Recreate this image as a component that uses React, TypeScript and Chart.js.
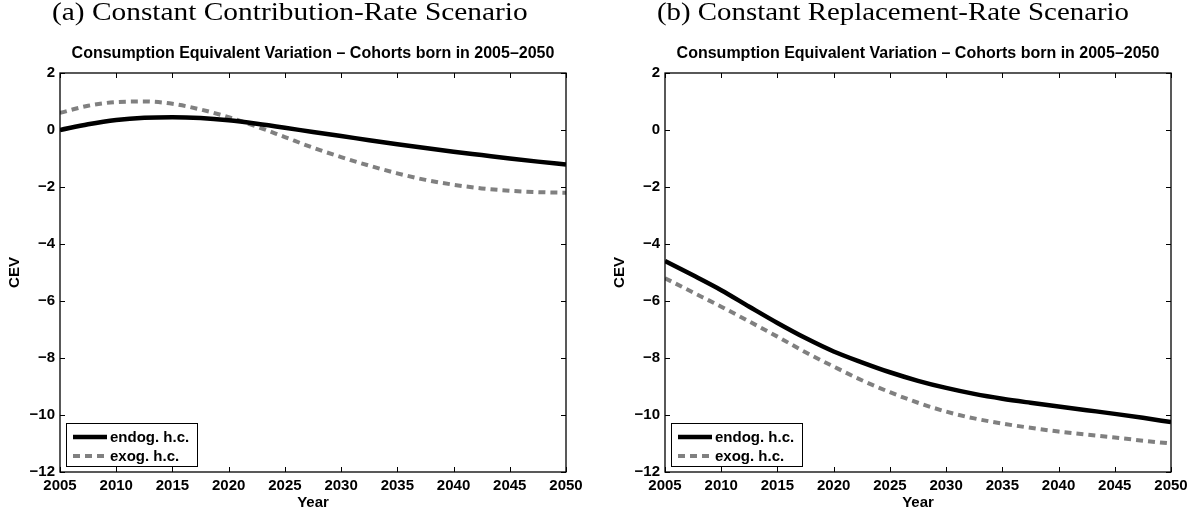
import React, { useEffect, useRef } from "react";
import { Chart, registerables } from "chart.js";

Chart.register(...registerables);

// ---------- data ----------
const YEARS = [2005, 2007.5, 2010, 2012.5, 2015, 2017.5, 2020, 2022.5, 2025, 2027.5, 2030, 2032.5, 2035, 2037.5, 2040, 2042.5, 2045, 2047.5, 2050];

// (a) Constant Contribution-Rate Scenario
const ENDOG_A = [0.0, 0.2, 0.35, 0.43, 0.45, 0.42, 0.34, 0.22, 0.08, -0.07, -0.21, -0.36, -0.5, -0.63, -0.76, -0.88, -1.0, -1.11, -1.21];
const EXOG_A = [0.6, 0.85, 0.98, 1.0, 0.92, 0.72, 0.45, 0.12, -0.25, -0.62, -0.95, -1.25, -1.52, -1.75, -1.92, -2.05, -2.13, -2.18, -2.2];

// (b) Constant Replacement-Rate Scenario
const ENDOG_B = [-4.6, -5.1, -5.62, -6.2, -6.77, -7.3, -7.77, -8.15, -8.5, -8.8, -9.05, -9.26, -9.43, -9.57, -9.7, -9.83, -9.96, -10.1, -10.25];
const EXOG_B = [-5.2, -5.7, -6.2, -6.72, -7.25, -7.8, -8.3, -8.78, -9.2, -9.57, -9.88, -10.12, -10.3, -10.45, -10.58, -10.69, -10.79, -10.9, -11.0];

const X_TICKS = [2005, 2010, 2015, 2020, 2025, 2030, 2035, 2040, 2045, 2050];
const Y_TICKS = [2, 0, -2, -4, -6, -8, -10, -12];
const SERIES_LABELS = ["endog. h.c.", "exog. h.c."];
const PANEL_HEADINGS = ["(a) Constant Contribution-Rate Scenario", "(b) Constant Replacement-Rate Scenario"];
const CHART_TITLE = "Consumption Equivalent Variation \u2013 Cohorts born in 2005\u20132050";
const X_TITLE = "Year";
const Y_TITLE = "CEV";

// ---------- styling ----------
const SANS = "'Liberation Sans', Arial, Helvetica, sans-serif";
const AXIS_FONT = { family: SANS, size: 15, weight: "bold" as const, lineHeight: 1.2 };

const framePlugin = {
  id: "frameTicks",
  afterDraw(chart: any) {
    const { ctx, chartArea } = chart;
    const { left, right, top, bottom } = chartArea;
    const xs = chart.scales.x;
    const ys = chart.scales.y;
    const tl = 5;
    ctx.save();
    ctx.strokeStyle = "#000";
    ctx.lineWidth = 1;
    ctx.beginPath();
    xs.ticks.forEach((t: any) => {
      const px = Math.round(xs.getPixelForValue(t.value)) + 0.5;
      ctx.moveTo(px, bottom);
      ctx.lineTo(px, bottom - tl);
      ctx.moveTo(px, top);
      ctx.lineTo(px, top + tl);
    });
    ys.ticks.forEach((t: any) => {
      const py = Math.round(ys.getPixelForValue(t.value)) + 0.5;
      ctx.moveTo(left, py);
      ctx.lineTo(left + tl, py);
      ctx.moveTo(right, py);
      ctx.lineTo(right - tl, py);
    });
    ctx.stroke();
    ctx.lineWidth = 1.3;
    ctx.strokeRect(left, top, right - left, bottom - top);
    ctx.restore();
  },
};

const legendPlugin = {
  id: "insideLegend",
  afterDraw(chart: any) {
    const { ctx, chartArea } = chart;
    const bx = chartArea.left + 6;
    const by = chartArea.bottom - 49;
    const bw = 131;
    const bh = 43;
    ctx.save();
    ctx.fillStyle = "#fff";
    ctx.fillRect(bx, by, bw, bh);
    ctx.strokeStyle = "#000";
    ctx.lineWidth = 1;
    ctx.strokeRect(bx + 0.5, by + 0.5, bw, bh);
    chart.data.datasets.forEach((ds: any, i: number) => {
      const cy = by + 14 + i * 19;
      ctx.strokeStyle = ds.borderColor;
      ctx.lineWidth = ds.borderWidth;
      ctx.setLineDash(ds.borderDash || []);
      ctx.beginPath();
      ctx.moveTo(bx + 7, cy);
      ctx.lineTo(bx + 41, cy);
      ctx.stroke();
      ctx.setLineDash([]);
      ctx.fillStyle = "#000";
      ctx.font = `bold 15px ${SANS}`;
      ctx.textBaseline = "middle";
      ctx.textAlign = "left";
      ctx.fillText(ds.label, bx + 44, cy + 0.5);
    });
    ctx.restore();
  },
};

function fmtY(v: number) {
  return v < 0 ? "\u2212" + Math.abs(v) : String(v);
}

function makeConfig(endog: number[], exog: number[], leftW: number, rightW: number, cevPad: number): any {
  return {
    type: "line",
    data: {
      datasets: [
        {
          label: SERIES_LABELS[0],
          data: YEARS.map((x, i) => ({ x, y: endog[i] })),
          borderColor: "#000000",
          borderWidth: 4.5,
          pointRadius: 0,
          cubicInterpolationMode: "monotone",
          fill: false,
        },
        {
          label: SERIES_LABELS[1],
          data: YEARS.map((x, i) => ({ x, y: exog[i] })),
          borderColor: "#808080",
          borderWidth: 4,
          borderDash: [7, 5],
          borderCapStyle: "butt",
          pointRadius: 0,
          cubicInterpolationMode: "monotone",
          fill: false,
        },
      ],
    },
    options: {
      responsive: false,
      animation: false,
      devicePixelRatio: 1,
      layout: { padding: 0 },
      plugins: {
        legend: { display: false },
        tooltip: { enabled: false },
        title: {
          display: true,
          text: CHART_TITLE,
          color: "#000",
          font: { family: SANS, size: 16, weight: "bold", lineHeight: 1.2 },
          padding: { top: 44.4, bottom: 9.4 },
        },
      },
      scales: {
        x: {
          type: "linear",
          min: 2005,
          max: 2050,
          afterBuildTicks: (s: any) => {
            s.ticks = X_TICKS.map((v) => ({ value: v }));
          },
          ticks: {
            color: "#000",
            font: AXIS_FONT,
            padding: 5,
            maxRotation: 0,
            autoSkip: false,
            callback: (v: any) => String(v),
          },
          grid: { display: false, drawTicks: false },
          border: { display: false },
          title: { display: true, text: X_TITLE, color: "#000", font: AXIS_FONT, padding: { top: 0, bottom: 1 } },
          afterFit: (s: any) => {
            s.height = 41;
          },
        },
        y: {
          type: "linear",
          position: "left",
          min: -12,
          max: 2,
          afterBuildTicks: (s: any) => {
            s.ticks = Y_TICKS.map((v) => ({ value: v }));
          },
          ticks: {
            color: "#000",
            font: AXIS_FONT,
            padding: 5,
            autoSkip: false,
            callback: (v: any) => fmtY(Number(v)),
          },
          grid: { display: false, drawTicks: false },
          border: { display: false },
          title: { display: true, text: Y_TITLE, color: "#000", font: AXIS_FONT, padding: { top: cevPad, bottom: 0 } },
          afterFit: (s: any) => {
            s.width = leftW;
          },
        },
        yR: {
          type: "linear",
          position: "right",
          min: -12,
          max: 2,
          ticks: { display: false },
          grid: { display: false, drawTicks: false },
          border: { display: false },
          afterFit: (s: any) => {
            s.width = rightW;
          },
        },
      },
    },
    plugins: [framePlugin, legendPlugin],
  };
}

function Panel(props: { endog: number[]; exog: number[]; left: number; width: number; leftW: number; rightW: number; cevPad: number }) {
  const ref = useRef<HTMLCanvasElement | null>(null);
  useEffect(() => {
    if (!ref.current) return;
    const chart = new Chart(ref.current, makeConfig(props.endog, props.exog, props.leftW, props.rightW, props.cevPad));
    return () => chart.destroy();
  }, []);
  return (
    <canvas
      ref={ref}
      width={props.width}
      height={513}
      style={{ position: "absolute", left: props.left, top: 0, width: props.width, height: 513 }}
    />
  );
}

const headingStyle: React.CSSProperties = {
  position: "absolute",
  top: -1,
  fontFamily: "'Liberation Serif', 'Times New Roman', serif",
  fontSize: 26,
  lineHeight: "26px",
  color: "#000",
  whiteSpace: "nowrap",
  transformOrigin: "left top",
  zIndex: 2,
};

export default function App() {
  return (
    <div
      style={{
        position: "fixed",
        left: 0,
        top: 0,
        width: 1199,
        height: 513,
        overflow: "hidden",
        background: "#fff",
      }}
    >
      <Panel endog={ENDOG_A} exog={EXOG_A} left={0} width={626} leftW={60} rightW={60} cevPad={6} />
      <Panel endog={ENDOG_B} exog={EXOG_B} left={610} width={616} leftW={55} rightW={55} cevPad={1} />
      <div style={{ ...headingStyle, left: 52, transform: "scaleX(1.13)" }}>{PANEL_HEADINGS[0]}</div>
      <div style={{ ...headingStyle, left: 657, transform: "scaleX(1.11)" }}>{PANEL_HEADINGS[1]}</div>
    </div>
  );
}
